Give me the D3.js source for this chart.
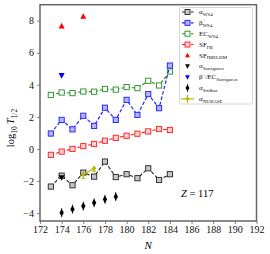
<!DOCTYPE html>
<html>
<head>
<meta charset="utf-8">
<script src="https://cdn.jsdelivr.net/npm/d3@7"></script>
<style>
  body { margin: 0; background: #fff; }
  svg text { font-family: "Liberation Serif", "DejaVu Serif", serif; }
</style>
</head>
<body>
<div id="chart"></div>
<script>
// --------- DATA ---------
const nWS4 = [173, 174, 175, 176, 177, 178, 179, 180, 181, 182, 183, 184];
const alphaWS4 = [-2.35, -1.67, -2.27, -1.48, -1.73, -0.79, -1.76, -1.58, -1.83, -1.21, -1.94, -1.58];
const betaWS4 = [0.96, 1.81, 1.22, 2.07, 1.44, 2.57, 1.81, 3.06, 2.12, 3.42, 2.54, 5.2];
const ecWS4 = [3.37, 3.52, 3.48, 3.58, 3.57, 3.74, 3.7, 3.86, 3.79, 4.25, 3.96, 4.83];
const sfFB = [-0.37, -0.17, 0.0, 0.17, 0.31, 0.51, 0.69, 0.82, 0.95, 1.09, 1.24, 1.18];

const nSfImeldm = [174, 176];
const sfImeldm = [7.67, 8.27];

const nAlphaSarr = [174];
const alphaSarr = [-1.79];

const nBetaSarr = [174];
const betaSarr = [4.58];

const nSridhar = [174, 175, 176, 177, 178, 179];
const alphaSridhar = [-3.98, -3.76, -3.57, -3.36, -3.15, -2.98];

const nNubase = [176, 177];
const alphaNubase = [-1.62, -1.21];
const nubaseErr = [0.22, 0.18];

const xTicks = [172, 174, 176, 178, 180, 182, 184, 186, 188, 190, 192];
const yTicks = [-4, -2, 0, 2, 4, 6, 8];

// --------- CHART ---------
const W = 270, H = 254;
const margin = {top: 4.7, right: 13.5, bottom: 33, left: 40};
const width = W - margin.left - margin.right,
      height = H - margin.top - margin.bottom;

const svg = d3.select("#chart").append("svg")
    .attr("width", W).attr("height", H);
const g = svg.append("g")
    .attr("transform", "translate(" + margin.left + "," + margin.top + ")");

const x = d3.scaleLinear().domain([172, 192]).range([0, width]);
const y = d3.scaleLinear().domain([-4.5, 9]).range([height, 0]);

// axes
const frameColor = "#666";
const xAxis = g.append("g")
    .attr("transform", "translate(0," + height + ")")
    .call(d3.axisBottom(x).tickValues(xTicks).tickSize(3).tickPadding(2));
const yAxis = g.append("g")
    .call(d3.axisLeft(y).tickValues(yTicks).tickSize(3).tickPadding(3)
        .tickFormat(d => d < 0 ? "\u2212" + Math.abs(d) : d));
[xAxis, yAxis].forEach(a => {
    a.select(".domain").remove();
    a.selectAll("line").attr("stroke", frameColor).attr("stroke-width", 0.8);
    a.selectAll("text").attr("fill", "#111").style("font-size", "10px");
});

g.append("rect")
    .attr("width", width).attr("height", height)
    .attr("fill", "none").attr("stroke", frameColor).attr("stroke-width", 1.5);

// helpers
function series(xs, ys) { return xs.map((d, i) => ({n: d, v: ys[i]})); }

const line = d3.line().x(d => x(d.n)).y(d => y(d.v));

function squareSeries(data, stroke, fill) {
    g.append("path")
        .attr("d", line(data))
        .attr("fill", "none")
        .attr("stroke", stroke)
        .attr("stroke-width", 1.1)
        .attr("stroke-dasharray", "3.5,2");
    g.selectAll(null).data(data).enter().append("rect")
        .attr("x", d => x(d.n) - 2.6)
        .attr("y", d => y(d.v) - 2.6)
        .attr("width", 5.2).attr("height", 5.2)
        .attr("fill", fill)
        .attr("stroke", stroke)
        .attr("stroke-width", 0.9);
}

squareSeries(series(nWS4, ecWS4), "#1f8f1f", "#ffffff");
squareSeries(series(nWS4, betaWS4), "#1a1aff", "#b4b4ff");
squareSeries(series(nWS4, sfFB), "#ff1a1a", "#ffd0d0");
squareSeries(series(nWS4, alphaWS4), "#222", "#c8c8c8");

const sym = (type, size) => d3.symbol().type(type).size(size)();
const triDown = "M-3,-2.4L3,-2.4L0,3.2Z";
const triUp = "M-3,2.4L3,2.4L0,-3.2Z";
const thinDiamond = "M0,-3.8L2.2,0L0,3.8L-2.2,0Z";

function markers(data, path, color) {
    g.selectAll(null).data(data).enter().append("path")
        .attr("d", path)
        .attr("transform", d => "translate(" + x(d.n) + "," + y(d.v) + ")")
        .attr("fill", color);
}

markers(series(nSfImeldm, sfImeldm), triUp, "#ff0000");
markers(series(nBetaSarr, betaSarr), triDown, "#0000ff");
markers(series(nAlphaSarr, alphaSarr), triDown, "#000");

// Sridhar diamonds with small error bars
const srid = series(nSridhar, alphaSridhar);
g.selectAll(null).data(srid).enter().append("line")
    .attr("x1", d => x(d.n)).attr("x2", d => x(d.n))
    .attr("y1", d => y(d.v) - 4.5).attr("y2", d => y(d.v) + 4.5)
    .attr("stroke", "#000").attr("stroke-width", 0.8);
markers(srid, thinDiamond, "#000");

// NUBASE
const nub = series(nNubase, alphaNubase);
const nubColor = "#b5b500";
g.append("path").attr("d", line(nub))
    .attr("fill", "none").attr("stroke", nubColor).attr("stroke-width", 1.2);
g.selectAll(null).data(nub).enter().append("line")
    .attr("x1", d => x(d.n)).attr("x2", d => x(d.n))
    .attr("y1", (d, i) => y(d.v + nubaseErr[i])).attr("y2", (d, i) => y(d.v - nubaseErr[i]))
    .attr("stroke", nubColor).attr("stroke-width", 1.2);
g.selectAll(null).data(nub).enter().append("line")
    .attr("x1", d => x(d.n) - 2).attr("x2", d => x(d.n) + 2)
    .attr("y1", (d, i) => y(d.v - nubaseErr[i])).attr("y2", (d, i) => y(d.v - nubaseErr[i]))
    .attr("stroke", nubColor).attr("stroke-width", 1);
g.selectAll(null).data(nub).enter().append("circle")
    .attr("cx", d => x(d.n)).attr("cy", d => y(d.v)).attr("r", 1.8)
    .attr("fill", nubColor);

// Labels
svg.append("text")
    .attr("x", margin.left + x(182)).attr("y", 249)
    .attr("text-anchor", "middle")
    .style("font-size", "11px").style("font-style", "italic")
    .text("N");

const yl = svg.append("text")
    .attr("transform", "translate(14,128) rotate(-90)")
    .attr("text-anchor", "middle")
    .style("font-size", "10.5px");
yl.append("tspan").text("log");
yl.append("tspan").attr("dy", 2.5).style("font-size", "7.5px").text("10");
yl.append("tspan").attr("dy", -2.5).attr("dx", 2).style("font-style", "italic").text("T");
yl.append("tspan").attr("dy", 2.5).style("font-size", "7.5px").text("1/2");

const zt = svg.append("text")
    .attr("x", 181).attr("y", 196.5)
    .style("font-size", "10.5px");
zt.append("tspan").style("font-style", "italic").text("Z");
zt.append("tspan").text(" = 117");

// --------- LEGEND ---------
const legendItems = [
    {main: "\u03b1", sub: "WS4", kind: "sq", stroke: "#222", fill: "#c8c8c8"},
    {main: "\u03b2", sup: "+", sub: "WS4", kind: "sq", stroke: "#1a1aff", fill: "#b4b4ff"},
    {main: "EC", sub: "WS4", kind: "sq", stroke: "#1f8f1f", fill: "#fff"},
    {main: "SF", sub: "FB", kind: "sq", stroke: "#ff1a1a", fill: "#ffd0d0"},
    {main: "SF", sub: "IMELDM", kind: "up", color: "#ff0000"},
    {main: "\u03b1", sub: "Sarriguren", kind: "down", color: "#000"},
    {main: "\u03b2", sup: "+", tail: "/EC", sub: "Sarriguren", kind: "down", color: "#0000ff"},
    {main: "\u03b1", sub: "Sridhar", kind: "dia", color: "#000"},
    {main: "\u03b1", sub: "NUBASE", kind: "nub", color: nubColor}
];

const lg = svg.append("g");
lg.append("rect")
    .attr("x", 179.5).attr("y", 7.5).attr("width", 73).attr("height", 96.5)
    .attr("rx", 1.5)
    .attr("fill", "#fff").attr("stroke", "#ccc").attr("stroke-width", 0.8);

legendItems.forEach((d, i) => {
    const cy = 12 + i * 10.85;
    const row = lg.append("g").attr("transform", "translate(0," + cy + ")");
    const mx = 187.5;
    if (d.kind === "sq") {
        row.append("line").attr("x1", 182).attr("x2", 193.5)
            .attr("stroke", d.stroke).attr("stroke-width", 1.1).attr("stroke-dasharray", "3,1.5");
        row.append("rect").attr("x", mx - 2.5).attr("y", -2.5).attr("width", 5).attr("height", 5)
            .attr("fill", d.fill).attr("stroke", d.stroke).attr("stroke-width", 0.9);
    } else if (d.kind === "up") {
        row.append("path").attr("d", triUp).attr("transform", "translate(" + mx + ",0) scale(0.8)").attr("fill", d.color);
    } else if (d.kind === "down") {
        row.append("path").attr("d", triDown).attr("transform", "translate(" + mx + ",0) scale(0.8)").attr("fill", d.color);
    } else if (d.kind === "dia") {
        row.append("line").attr("x1", mx).attr("x2", mx).attr("y1", -4).attr("y2", 4)
            .attr("stroke", d.color).attr("stroke-width", 0.8);
        row.append("path").attr("d", thinDiamond).attr("transform", "translate(" + mx + ",0) scale(0.9)").attr("fill", d.color);
    } else if (d.kind === "nub") {
        row.append("line").attr("x1", 181).attr("x2", 194)
            .attr("stroke", d.color).attr("stroke-width", 1.2);
        row.append("line").attr("x1", mx).attr("x2", mx).attr("y1", -4).attr("y2", 4)
            .attr("stroke", d.color).attr("stroke-width", 1.2);
        row.append("circle").attr("cx", mx).attr("cy", 0).attr("r", 1.6).attr("fill", d.color);
    }
    const t = row.append("text").attr("x", 199).attr("y", 2.2).style("font-size", "7px").attr("fill", "#111");
    t.append("tspan").text(d.main);
    if (d.sup) {
        t.append("tspan").attr("dy", -2.8).style("font-size", "5px").text(d.sup);
        if (d.tail) {
            t.append("tspan").attr("dy", 2.8).text(d.tail);
            t.append("tspan").attr("dy", 1.8).style("font-size", "5px").text(d.sub);
        } else {
            t.append("tspan").attr("dx", -3).attr("dy", 4.8).style("font-size", "5px").text(d.sub);
        }
    } else {
        t.append("tspan").attr("dy", 1.8).style("font-size", "5px").text(d.sub);
    }
});
</script>
</body>
</html>
